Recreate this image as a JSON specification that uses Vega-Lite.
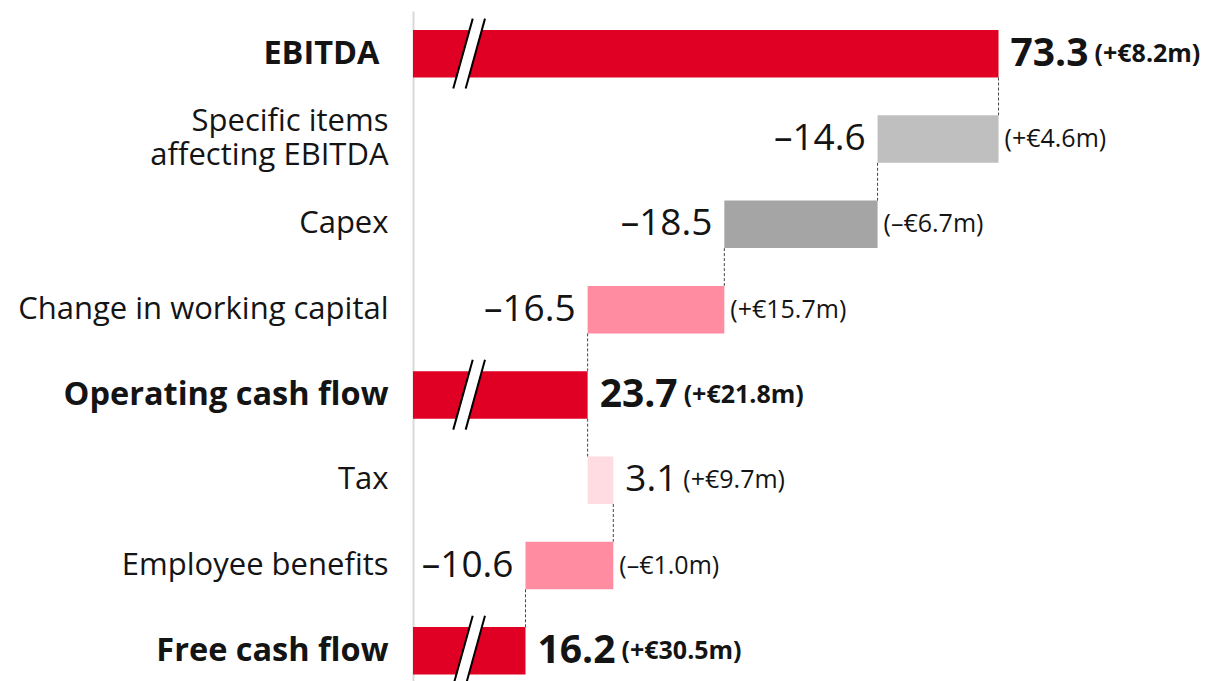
{
  "$schema": "https://vega.github.io/schema/vega-lite/v6.json",
  "width": 786,
  "height": 670,
  "autosize": {"type": "none"},
  "padding": {"left": 413, "top": 11, "right": 11, "bottom": 0},
  "background": "white",
  "config": {"view": {"stroke": null}, "font": "Open Sans"},
  "data": {
    "values": [
      {"cat": "EBITDA ", "kind": "total", "from": 0, "to": 73.3, "val": "73.3", "chg": "(+€8.2m)", "next": "Specific items|affecting EBITDA"},
      {"cat": "Specific items|affecting EBITDA", "kind": "specific", "from": 73.3, "to": 58.7, "val": "–14.6", "chg": "(+€4.6m)", "next": "Capex"},
      {"cat": "Capex", "kind": "capex", "from": 58.7, "to": 40.2, "val": "–18.5", "chg": "(–€6.7m)", "next": "Change in working capital"},
      {"cat": "Change in working capital", "kind": "wc", "from": 40.2, "to": 23.7, "val": "–16.5", "chg": "(+€15.7m)", "next": "Operating cash flow"},
      {"cat": "Operating cash flow", "kind": "total", "from": 0, "to": 23.7, "val": "23.7", "chg": "(+€21.8m)", "next": "Tax"},
      {"cat": "Tax", "kind": "tax", "from": 23.7, "to": 26.8, "val": "3.1", "chg": "(+€9.7m)", "next": "Employee benefits"},
      {"cat": "Employee benefits", "kind": "emp", "from": 26.8, "to": 16.2, "val": "–10.6", "chg": "(–€1.0m)", "next": "Free cash flow"},
      {"cat": "Free cash flow", "kind": "total", "from": 0, "to": 16.2, "val": "16.2", "chg": "(+€30.5m)", "next": null}
    ]
  },
  "encoding": {
    "y": {
      "field": "cat",
      "type": "nominal",
      "sort": null,
      "scale": {
        "domain": ["EBITDA ", "Specific items|affecting EBITDA", "Capex", "Change in working capital", "Operating cash flow", "Tax", "Employee benefits", "Free cash flow"],
        "paddingInner": 0.443,
        "paddingOuter": 0.149,
        "align": 0.748
      },
      "axis": {
        "title": null,
        "ticks": false,
        "labelPadding": {
          "condition": {"test": "datum.value === 'EBITDA '", "value": 34},
          "value": 25
        },
        "labelFont": "Open Sans",
        "labelFontSize": {
          "condition": {"test": "datum.value === 'EBITDA ' || datum.value === 'Operating cash flow' || datum.value === 'Free cash flow'", "value": 32.5},
          "value": 31
        },
        "labelColor": "#141414",
        "labelLimit": 0,
        "labelLineHeight": 34,
        "labelExpr": "split(datum.value, '|')",
        "labelOffset": {
          "condition": {"test": "indexof(datum.value, '|') >= 0", "value": -17},
          "value": 0
        },
        "labelFontWeight": {
          "condition": {"test": "datum.value === 'EBITDA ' || datum.value === 'Operating cash flow' || datum.value === 'Free cash flow'", "value": "bold"},
          "value": "normal"
        },
        "domainColor": "#d9d9d9",
        "domainWidth": 2
      }
    }
  },
  "layer": [
    {
      "mark": {"type": "bar"},
      "encoding": {
        "x": {"field": "from", "type": "quantitative", "scale": {"domain": [2.62, 97.5], "clamp": true, "nice": false, "zero": false}, "axis": null},
        "x2": {"field": "to"},
        "color": {
          "field": "kind",
          "type": "nominal",
          "scale": {
            "domain": ["total", "specific", "capex", "wc", "tax", "emp"],
            "range": ["#E00024", "#BFBFBF", "#A5A5A5", "#FF8CA0", "#FFDCE2", "#FF8CA0"]
          },
          "legend": null
        }
      }
    },
    {
      "transform": [{"filter": "datum.next != null"}],
      "mark": {"type": "rule", "color": "#444444", "strokeWidth": 1, "strokeDash": [3, 2]},
      "encoding": {
        "x": {"field": "to", "type": "quantitative", "scale": {"domain": [2.62, 97.5], "clamp": true, "nice": false, "zero": false}, "axis": null},
        "y": {"field": "cat", "type": "nominal", "bandPosition": 1},
        "y2": {"field": "next", "bandPosition": 0}
      }
    },
    {
      "transform": [{"filter": "datum.kind === 'total'"}],
      "mark": {"type": "rule", "color": "white", "strokeWidth": 11},
      "encoding": {
        "x": {"datum": 8.23, "type": "quantitative", "scale": {"domain": [2.62, 97.5], "clamp": true, "nice": false, "zero": false}, "axis": null},
        "x2": {"datum": 10.57},
        "y": {"field": "cat", "type": "nominal", "bandPosition": 1.23},
        "y2": {"field": "cat", "bandPosition": -0.24}
      }
    },
    {
      "transform": [{"filter": "datum.kind === 'total'"}],
      "mark": {"type": "rule", "color": "#000000", "strokeWidth": 2},
      "encoding": {
        "x": {"datum": 7.48, "type": "quantitative", "scale": {"domain": [2.62, 97.5], "clamp": true, "nice": false, "zero": false}, "axis": null},
        "x2": {"datum": 9.83},
        "y": {"field": "cat", "type": "nominal", "bandPosition": 1.23},
        "y2": {"field": "cat", "bandPosition": -0.24}
      }
    },
    {
      "transform": [{"filter": "datum.kind === 'total'"}],
      "mark": {"type": "rule", "color": "#000000", "strokeWidth": 2},
      "encoding": {
        "x": {"datum": 8.98, "type": "quantitative", "scale": {"domain": [2.62, 97.5], "clamp": true, "nice": false, "zero": false}, "axis": null},
        "x2": {"datum": 11.31},
        "y": {"field": "cat", "type": "nominal", "bandPosition": 1.23},
        "y2": {"field": "cat", "bandPosition": -0.24}
      }
    },
    {
      "transform": [{"filter": "datum.kind !== 'total' && datum.kind !== 'tax'"}],
      "mark": {"type": "text", "align": "right", "baseline": "middle", "dx": -12, "fontSize": 37, "font": "Open Sans", "color": "#141414"},
      "encoding": {
        "x": {"field": "to", "type": "quantitative", "scale": {"domain": [2.62, 97.5], "clamp": true, "nice": false, "zero": false}, "axis": null},
        "text": {"field": "val"}
      }
    },
    {
      "transform": [{"filter": "datum.kind !== 'total' && datum.kind !== 'tax'"}],
      "mark": {"type": "text", "align": "left", "baseline": "middle", "dx": 6, "fontSize": 25, "font": "Open Sans", "color": "#141414"},
      "encoding": {
        "x": {"field": "from", "type": "quantitative", "scale": {"domain": [2.62, 97.5], "clamp": true, "nice": false, "zero": false}, "axis": null},
        "text": {"field": "chg"}
      }
    },
    {
      "transform": [{"filter": "datum.kind === 'tax'"}],
      "mark": {"type": "text", "align": "left", "baseline": "middle", "dx": 12, "fontSize": 37, "font": "Open Sans", "color": "#141414"},
      "encoding": {
        "x": {"field": "to", "type": "quantitative", "scale": {"domain": [2.62, 97.5], "clamp": true, "nice": false, "zero": false}, "axis": null},
        "text": {"field": "val"}
      }
    },
    {
      "transform": [{"filter": "datum.kind === 'tax'"}],
      "mark": {"type": "text", "align": "left", "baseline": "middle", "dx": 70, "fontSize": 25, "font": "Open Sans", "color": "#141414"},
      "encoding": {
        "x": {"field": "to", "type": "quantitative", "scale": {"domain": [2.62, 97.5], "clamp": true, "nice": false, "zero": false}, "axis": null},
        "text": {"field": "chg"}
      }
    },
    {
      "transform": [{"filter": "datum.kind === 'total'"}],
      "mark": {"type": "text", "align": "left", "baseline": "middle", "dx": 12, "fontSize": 39, "fontWeight": "bold", "font": "Open Sans", "color": "#141414"},
      "encoding": {
        "x": {"field": "to", "type": "quantitative", "scale": {"domain": [2.62, 97.5], "clamp": true, "nice": false, "zero": false}, "axis": null},
        "text": {"field": "val"}
      }
    },
    {
      "transform": [{"filter": "datum.kind === 'total'"}],
      "mark": {"type": "text", "align": "left", "baseline": "middle", "dx": 96, "fontSize": 25, "fontWeight": "bold", "font": "Open Sans", "color": "#141414"},
      "encoding": {
        "x": {"field": "to", "type": "quantitative", "scale": {"domain": [2.62, 97.5], "clamp": true, "nice": false, "zero": false}, "axis": null},
        "text": {"field": "chg"}
      }
    }
  ]
}
